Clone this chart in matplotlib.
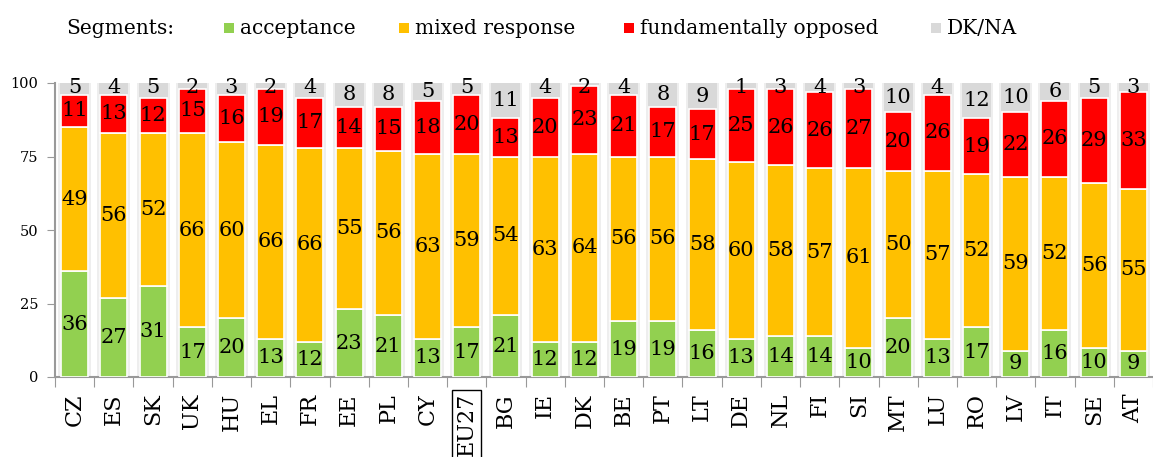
import matplotlib
matplotlib.use("Agg")
import matplotlib.pyplot as plt
from matplotlib.patches import Rectangle

countries = ["CZ", "ES", "SK", "UK", "HU", "EL", "FR", "EE", "PL", "CY", "EU27", "BG", "IE", "DK",
             "BE", "PT", "LT", "DE", "NL", "FI", "SI", "MT", "LU", "RO", "LV", "IT", "SE", "AT"]
acceptance = [36, 27, 31, 17, 20, 13, 12, 23, 21, 13, 17, 21, 12, 12, 19, 19, 16, 13, 14, 14, 10, 20, 13, 17, 9, 16, 10, 9]
mixed = [49, 56, 52, 66, 60, 66, 66, 55, 56, 63, 59, 54, 63, 64, 56, 56, 58, 60, 58, 57, 61, 50, 57, 52, 59, 52, 56, 55]
opposed = [11, 13, 12, 15, 16, 19, 17, 14, 15, 18, 20, 13, 20, 23, 21, 17, 17, 25, 26, 26, 27, 20, 26, 19, 22, 26, 29, 33]
dk_na = [5, 4, 5, 2, 3, 2, 4, 8, 8, 5, 5, 11, 4, 2, 4, 8, 9, 1, 3, 4, 3, 10, 4, 12, 10, 6, 5, 3]

series = [("acceptance", acceptance, "#92D050"),
          ("mixed response", mixed, "#FFC000"),
          ("fundamentally opposed", opposed, "#FF0000")]
GRAY = "#D9D9D9"

plt.rcParams["font.family"] = ["DejaVu Serif"]

fig = plt.figure(figsize=(11.53, 4.57), dpi=100)
ax = fig.add_axes([55 / 1153, 1 - 377 / 457, 1 - 55 / 1153, (377 - 83) / 457])

x = list(range(len(countries)))

# soft shadow + gray background bar up to 100
ax.bar(x, [100] * len(x), width=0.84, color="#EEEEEE", zorder=1)
ax.bar(x, [100] * len(x), width=0.74, color=GRAY, zorder=2)

bottom = [0] * len(x)
for name, vals, col in series:
    ax.bar(x, vals, width=0.69, bottom=bottom, color=col, edgecolor="white", linewidth=1.2, zorder=3)
    for i, v in enumerate(vals):
        ax.text(i, bottom[i] + v / 2, str(v), ha="center", va="center", fontsize=15, zorder=5)
    bottom = [b + v for b, v in zip(bottom, vals)]

# DK/NA labels in the gray top part
for i, v in enumerate(dk_na):
    top = bottom[i]
    yc = (top + 100) / 2 if 100 - top > 5 else 98.5
    ax.text(i, yc, str(v), ha="center", va="center", fontsize=15, zorder=5, clip_on=False)

ax.set_xlim(-0.5, (1153 - 55) / 39.5 - 0.5)
ax.set_ylim(0, 100)
ax.set_yticks([0, 25, 50, 75, 100])
ax.tick_params(axis="y", labelsize=10.5, length=6, color="#999999", pad=6)
ax.set_xticks([i - 0.5 for i in range(len(countries) + 1)])
ax.set_xticklabels([])
ax.tick_params(axis="x", length=7, color="#999999")
for s in ["top", "right"]:
    ax.spines[s].set_visible(False)
for s in ["left", "bottom"]:
    ax.spines[s].set_color("#999999")
    ax.spines[s].set_linewidth(1.5)

for i, c in enumerate(countries):
    kw = {}
    if c == "EU27":
        kw["bbox"] = dict(boxstyle="square,pad=0.15", facecolor="none", edgecolor="black", linewidth=1)
    ax.text(i, -5.5, c, rotation=90, ha="center", va="top", fontsize=16, **kw)

# legend row
fig.text(66 / 1153, 1 - 28 / 457, "Segments:", fontsize=14.5, va="center")
legend_items = [("acceptance", "#92D050", 224), ("mixed response", "#FFC000", 399),
                ("fundamentally opposed", "#FF0000", 624), ("DK/NA", GRAY, 931)]
for label, col, px in legend_items:
    fig.patches.append(Rectangle((px / 1153, 1 - 33 / 457), 10 / 1153, 10 / 457,
                                 transform=fig.transFigure, facecolor=col, edgecolor="none"))
    fig.text((px + 16) / 1153, 1 - 28 / 457, label, fontsize=14.5, va="center")

fig.savefig("out.png", dpi=100)
